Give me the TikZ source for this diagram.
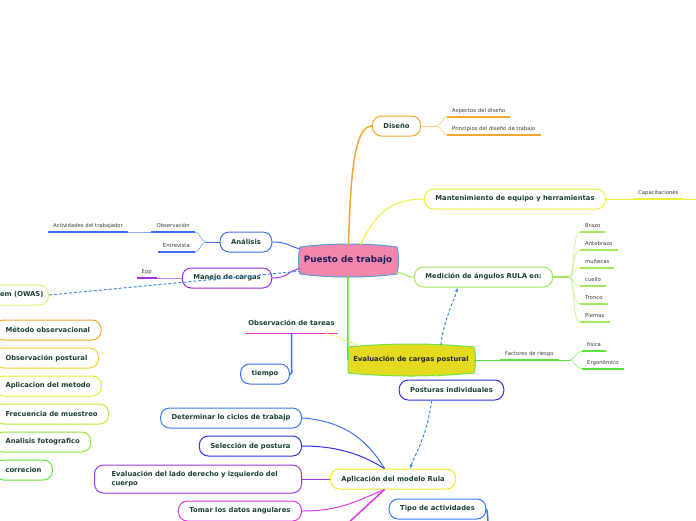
\documentclass[tikz,border=0pt]{standalone}
\usepackage{fontspec}
\setmainfont{DejaVu Sans}
\usetikzlibrary{arrows.meta}

\definecolor{txt}{HTML}{1D3F3A}
\definecolor{lbltxt}{HTML}{3A3A3A}
\definecolor{hubpink}{HTML}{F286AC}
\definecolor{hubline}{HTML}{5B9BD5}
\definecolor{hubtxt}{HTML}{1E1E5A}
\definecolor{evalfill}{HTML}{E4DA20}
\definecolor{evalline}{HTML}{6CE646}
\definecolor{orng}{HTML}{F6A52E}
\definecolor{ylw}{HTML}{EFF03C}
\definecolor{lime}{HTML}{A2EA5C}
\definecolor{blu}{HTML}{3D6FF0}
\definecolor{blu2}{HTML}{3A78F2}
\definecolor{purp}{HTML}{A42FE0}
\definecolor{viol}{HTML}{9A3BE6}
\definecolor{indg}{HTML}{2F33E0}
\definecolor{mgnt}{HTML}{E03AE0}
\definecolor{gold}{HTML}{F2E62E}
\definecolor{owas}{HTML}{D9F07A}
\definecolor{grn}{HTML}{5BE23A}
\definecolor{dshblue}{HTML}{3A8DE8}
\definecolor{goldy}{HTML}{F5D12C}
\definecolor{ylw2}{HTML}{E5EE33}
\definecolor{ygreen}{HTML}{BDEE3A}
\definecolor{grn2}{HTML}{8FEA3C}
\definecolor{grn3}{HTML}{62E63B}

\begin{document}
\begin{tikzpicture}[x=1pt, y=-1pt,
    box/.style={draw, rounded corners=9pt, line width=1pt, fill=white, text=txt,
      font=\bfseries\fontsize{6.8}{8.2}\selectfont, minimum height=20pt,
      inner xsep=11pt, inner ysep=0pt},
    lbl/.style={font=\fontsize{5.3}{6.4}\selectfont, text=lbltxt, inner xsep=5pt,
      minimum height=12pt, inner ysep=0pt},
    uline/.style={line width=1.8pt},
    twig/.style={line width=0.6pt},
    dotline/.style={dash pattern=on 3pt off 2pt, line width=1pt},
    tip/.style={-{Latex[length=4pt,width=3.5pt]}}]
  \useasboundingbox (0,0) rectangle (696,520);

  % central shapes
  \filldraw[fill=hubpink, draw=hubline, line width=1pt] (300,247) .. controls (330,243) and (367,243) .. (397,247)
    .. controls (399,255) and (399,266) .. (397,274) .. controls (367,278) and (330,278) .. (300,274)
    .. controls (298,266) and (298,255) .. (300,247) -- cycle;
  \node[font=\bfseries\fontsize{8.8}{10}\selectfont, text=hubtxt, minimum width=97pt, minimum height=30pt] (puesto) at (348,260) {Puesto de trabajo};

  \filldraw[fill=evalfill, draw=evalline, line width=1pt] (348,347) .. controls (390,343) and (432,343) .. (474,347)
    .. controls (476,355) and (476,366) .. (474,373) .. controls (432,377) and (390,377) .. (348,373) -- cycle;
  \node[font=\bfseries\fontsize{6.8}{8.2}\selectfont, text=black!85, minimum width=126pt, minimum height=30pt] (evalc) at (411,360) {Evaluación de cargas postural};

  % main branches
  \node[box, draw=orng] (diseno) at (396.5,126) {Diseño};
  \node[box, draw=ylw] (manten) at (515,199) {Mantenimiento de equipo y herramientas};
  \node[box, draw=lime] (medicion) at (483.5,277) {Medición de ángulos RULA en:};
  \node[box, draw=blu] (analisis) at (246,242) {Análisis};
  \node[box, draw=purp] (manejo) at (227,278) {Manejo de cargas};
  \node[box, draw=owas, anchor=east, inner xsep=5pt] (owasbox) at (49,295) {System (OWAS)};
  \node[box, draw=blu] (tiempo) at (265,374) {tiempo};
  \node[box, draw=indg] (posturas) at (451.5,390) {Posturas individuales};
  \node[box, draw=gold] (aplic) at (393,479) {Aplicación del modelo Rula};
  \node[box, draw=blu2] (tipo) at (437.5,509) {Tipo de actividades};

  % left column
  \node[box, draw=orng, anchor=west] (metodo) at (-6,330) {Método observacional};
  \node[box, draw=goldy, anchor=west] (obspost) at (-6,358) {Observación postural};
  \node[box, draw=ylw2, anchor=west] (aplmet) at (-6,386) {Aplicacion del metodo};
  \node[box, draw=ygreen, anchor=west] (frecuencia) at (-6,414) {Frecuencia de muestreo};
  \node[box, draw=grn2, anchor=west] (fotos) at (-6,442) {Analisis fotografico};
  \node[box, draw=grn3, anchor=west] (correc) at (-6,470) {correcion};

  % rula children
  \node[box, draw=blu2, anchor=east] (ciclos) at (302,418) {Determinar lo ciclos de trabajp};
  \node[box, draw=indg, anchor=east] (seleccion) at (302,446) {Selección de postura};
  \node[box, draw=viol, anchor=east, align=left, text width=173pt, inner xsep=17pt, minimum height=28pt] (lados) at (302,479) {Evaluación del lado derecho y izquierdo del\\cuerpo};
  \node[box, draw=mgnt, anchor=east] (angulares) at (302,511) {Tomar los datos angulares};

  % observacion de tareas
  \node[font=\bfseries\fontsize{6.8}{8.2}\selectfont, text=txt, minimum width=93pt, minimum height=20pt, inner xsep=0pt] (obst) at (291.5,323) {Observación de tareas};
  \draw[mgnt, line width=0.8pt] (obst.south west) -- (obst.south east);

  % small labels
  \node[lbl, anchor=south west] (aspectos) at (447,117) {Aspectos del diseño};
  \node[lbl, anchor=south west] (principios) at (447,135) {Principios del diseño de trabajo};
  \node[lbl, anchor=south west] (capacit) at (633,199) {Capacitaciones};
  \node[lbl, anchor=south west] (brazo) at (580,232) {Brazo};
  \node[lbl, anchor=south west] (antebrazo) at (580,250) {Antebrazo};
  \node[lbl, anchor=south west] (munecas) at (580,268) {muñecas};
  \node[lbl, anchor=south west] (cuello) at (580,286) {cuello};
  \node[lbl, anchor=south west] (tronco) at (580,304) {Tronco};
  \node[lbl, anchor=south west] (piernas) at (580,322) {Piernas};
  \node[lbl, anchor=south west] (factores) at (500,360) {Factores de riesgo};
  \node[lbl, anchor=south west] (fisica) at (582,351) {física};
  \node[lbl, anchor=south west] (ergon) at (582,369) {Ergonómico};
  \node[lbl, anchor=south east] (observ) at (195,232) {Observación};
  \node[lbl, anchor=south east] (entrev) at (195,252) {Entrevista};
  \node[lbl, anchor=south east] (activ) at (128,232) {Actividades del trabajador};
  \node[lbl, anchor=south east] (epp) at (157,278) {Epp};

  \coordinate (dfork) at (436,126);
  \coordinate (mfork) at (569,277);
  \coordinate (ffork) at (570,360);
  \coordinate (afork) at (206,242);
  \coordinate (capend) at (700,199);
  \coordinate (offbot) at (345,526);
  \coordinate (tipoend) at (488,526);

  % underlines
  \foreach \n in {aspectos,principios} \draw[uline, orng] (\n.south west) -- (\n.south east);
  \draw[uline, ylw] (capacit.south west) -- (capacit.south east);
  \foreach \n in {brazo,antebrazo,munecas,cuello,tronco,piernas} \draw[uline, lime] (\n.south west) -- (\n.south east);
  \foreach \n in {factores,fisica,ergon} \draw[uline, grn] (\n.south west) -- (\n.south east);
  \foreach \n in {observ,entrev,activ} \draw[uline, blu] (\n.south west) -- (\n.south east);
  \draw[uline, purp] (epp.south west) -- (epp.south east);

  % twigs
  \draw[twig, orng!60] (diseno.east) -- (dfork);
  \foreach \n in {aspectos,principios} \draw[twig, orng!60] (dfork) .. controls +(6,0) and +(-5,0) .. (\n.south west);
  \draw[twig, ylw] (manten.east) -- (capacit.south west);
  \draw[twig, ylw] (capacit.south east) -- (capend);
  \draw[line width=1.8pt, lime] (medicion.east) -- (mfork);
  \foreach \n in {brazo,antebrazo,munecas,cuello,tronco,piernas} \draw[twig, lime!70] (mfork) .. controls +(6,0) and +(-8,0) .. (\n.south west);
  \draw[twig, grn] (evalc.east) -- (factores.south west);
  \draw[twig, grn] (factores.south east) -- (ffork);
  \foreach \n in {fisica,ergon} \draw[twig, grn!70] (ffork) .. controls +(5,0) and +(-6,0) .. (\n.south west);
  \draw[twig, blu] (analisis.west) -- (afork);
  \foreach \n in {observ,entrev} \draw[twig, blu!70] (afork) .. controls +(-5,0) and +(5,0) .. (\n.south east);
  \draw[twig, blu!60] (observ.south west) -- (activ.south east);
  \draw[twig, purp!60] (manejo.west) -- (epp.south east);

  % main connectors
  \draw[orng, line width=1.5pt] (puesto.88) .. controls +(2,-85) and +(-15,0) .. (diseno.west);
  \draw[ylw, line width=1pt] (puesto.51) .. controls +(15,-30) and +(-35,0) .. (manten.west);
  \draw[blu, line width=1pt] (analisis.east) .. controls +(15,0) and +(-12,-3) .. (puesto.167);
  \draw[purp, line width=1pt] (manejo.east) .. controls +(15,0) and +(-12,3) .. (puesto.190);
  \draw[lime, line width=1pt] (puesto.-14) .. controls +(10,2) and +(-8,0) .. (medicion.west);
  \draw[grn, line width=1.5pt] (puesto.south) -- (evalc.west);
  \draw[blu, line width=1.5pt] (obst.south) -- ++(0,32) .. controls +(0,6) and +(3,0) .. (tiempo.east);

  \draw[blu2, line width=1pt] (ciclos.east) .. controls +(45,3) and +(-15,-25) .. (aplic.129);
  \draw[indg, line width=1pt] (seleccion.east) .. controls +(40,0) and +(-20,-12) .. (aplic.129);
  \draw[viol, line width=1pt] (lados.east) -- (aplic.west);
  \draw[mgnt, line width=1pt] (angulares.east) .. controls +(40,0) and +(-25,10) .. (aplic.231);
  \draw[mgnt, line width=1.5pt] (aplic.231) -- (offbot);
  \draw[blu2, line width=1.5pt] (tipo.east) .. controls +(1,0) and +(0,-6) .. (tipoend);

  % dashed links
  \draw[dotline, dshblue] (owasbox.east) -- (puesto.193);
  \draw[dotline, dshblue, tip] (evalc.27) .. controls +(3,-25) and +(-3,12) .. (medicion.202);
  \draw[dotline, dshblue, tip] (posturas.208) .. controls +(-5,35) and +(8,-20) .. (aplic.32);
  \draw[dotline, ylw] ([xshift=-12pt]obst.south east) -- (evalc.164);
  \draw[dotline, ylw] (evalc.-31) -- (posturas.135);
\end{tikzpicture}
\end{document}
